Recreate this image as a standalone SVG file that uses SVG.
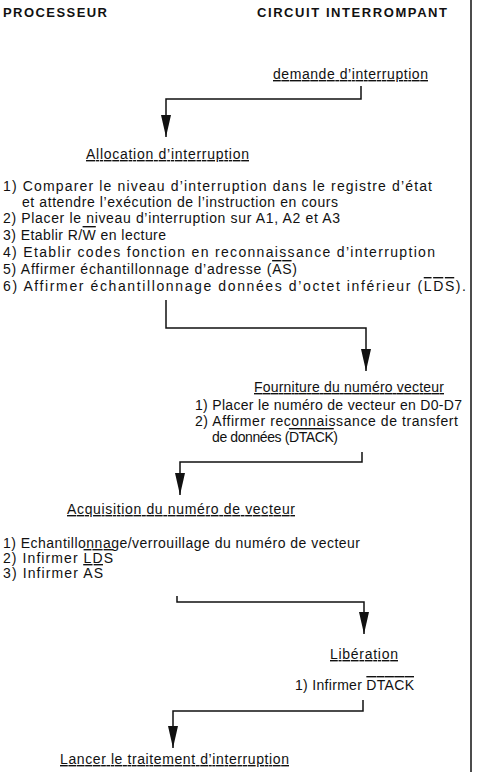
<svg xmlns="http://www.w3.org/2000/svg" width="478" height="772" viewBox="0 0 478 772">
<style>
text{font-family:"Liberation Sans",Arial,sans-serif;font-size:14px;fill:#111}
.h{font-size:13px;font-weight:bold}
.u{text-decoration:underline}
.o{text-decoration:overline}
.c{fill:none;stroke:#111;stroke-width:1.5}
</style>
<defs>
<marker id="ah" markerUnits="userSpaceOnUse" markerWidth="23" markerHeight="12" refX="22" refY="5" orient="auto" viewBox="0 0 23 10">
<path d="M0,0 L22,5 L0,10 Z" fill="#111"/>
</marker>
</defs>
<rect width="478" height="772" fill="#fff"/>
<line x1="471" y1="0" x2="471" y2="772" stroke="#111" stroke-width="1.5"/>
<g id="headers">
<text class="h" x="3" y="17" textLength="104">PROCESSEUR</text>
<text class="h" x="257" y="17" textLength="190">CIRCUIT INTERROMPANT</text>
</g>
<g id="demande">
<text class="u" x="273" y="79" textLength="155">demande d’interruption</text>
</g>
<g id="allocation">
<text class="u" x="86" y="159" textLength="163">Allocation d’interruption</text>
<text x="3" y="191" textLength="429">1)  Comparer le niveau d’interruption dans le registre d’état</text>
<text x="22" y="207" textLength="316">et attendre l’exécution de l’instruction en cours</text>
<text x="3" y="223" textLength="337">2)  Placer le niveau d’interruption sur A1, A2 et A3</text>
<text x="3" y="240" textLength="163">3)  Etablir R/<tspan class="o">W</tspan> en lecture</text>
<text x="3" y="257" textLength="432">4)  Etablir codes fonction en reconnaissance d’interruption</text>
<text x="3" y="274" textLength="294">5)  Affirmer échantillonnage d’adresse (<tspan class="o">AS</tspan>)</text>
<text x="3" y="291" textLength="463">6)  Affirmer échantillonnage données d’octet inférieur (<tspan class="o">LDS</tspan>).</text>
</g>
<g id="fourniture">
<text class="u" x="254" y="392" textLength="190">Fourniture du numéro vecteur</text>
<text x="195" y="410" textLength="267">1)  Placer le numéro de vecteur en D0-D7</text>
<text x="195" y="426" textLength="263">2)  Affirmer reconnaissance de transfert</text>
<text x="212" y="442" textLength="126">de données (<tspan class="o">DTACK</tspan>)</text>
</g>
<g id="acquisition">
<text class="u" x="67" y="514" textLength="228">Acquisition du numéro de vecteur</text>
<text x="3" y="548" textLength="357">1)  Echantillonnage/verrouillage du numéro de vecteur</text>
<text x="3" y="563" textLength="110">2)  Infirmer <tspan class="o">LDS</tspan></text>
<text x="3" y="578" textLength="100">3)  Infirmer <tspan class="o">AS</tspan></text>
</g>
<g id="liberation">
<text class="u" x="330" y="659" textLength="68">Libération</text>
<text x="295" y="690" textLength="119">1)  Infirmer <tspan class="o">DTACK</tspan></text>
</g>
<g id="lancer">
<text class="u" x="60" y="764" textLength="229">Lancer le traitement d’interruption</text>
</g>
<g id="connectors">
<path class="c" d="M361,86 V99 H166 V137" marker-end="url(#ah)"/>
<path class="c" d="M166,300 V328 H366 V371" marker-end="url(#ah)"/>
<path class="c" d="M362,452 V462 H180 V495" marker-end="url(#ah)"/>
<path class="c" d="M177,596 V602 H364 V634" marker-end="url(#ah)"/>
<path class="c" d="M363,700 V711 H173 V748" marker-end="url(#ah)"/>
</g>
</svg>
